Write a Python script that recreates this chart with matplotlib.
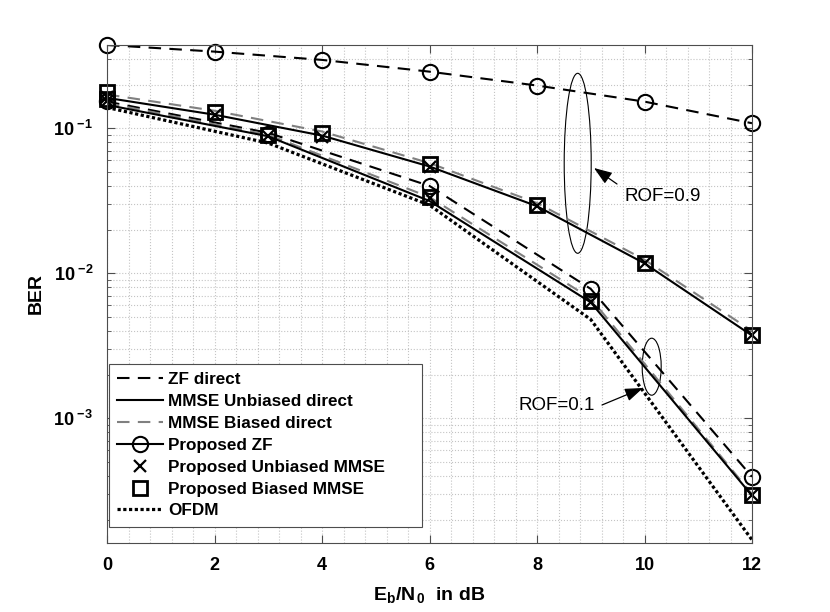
import matplotlib
matplotlib.use('Agg')
import matplotlib.pyplot as plt
from matplotlib.lines import Line2D
from matplotlib.patches import Ellipse
from matplotlib.ticker import FixedLocator, MultipleLocator, LogLocator, NullFormatter, FuncFormatter
import math

plt.rcParams['font.family'] = ['Liberation Sans', 'DejaVu Sans']
plt.rcParams['mathtext.fontset'] = 'custom'
plt.rcParams['mathtext.rm'] = 'Liberation Sans'
plt.rcParams['mathtext.bf'] = 'Liberation Sans:bold'
plt.rcParams['mathtext.it'] = 'Liberation Sans:italic'

# ---------------- data ----------------
# ROF = 0.9
snr_a = [0, 2, 4, 6, 8, 10, 12]
zf_direct_a = [0.375, 0.3376, 0.296, 0.2456, 0.197, 0.1526, 0.1083]
mmse_unb_direct_a = [0.162, 0.124, 0.089, 0.0545, 0.0290, 0.0117, 0.00372]
mmse_b_direct_a = [0.171, 0.132, 0.095, 0.0575, 0.0305, 0.0124, 0.0040]
prop_zf_a = [0.375, 0.3376, 0.296, 0.2456, 0.197, 0.1526, 0.1083]
prop_unb_a = [0.163, 0.1236, 0.0875, 0.0543, 0.0292, 0.0117, 0.00375]
prop_b_a = [0.178, 0.130, 0.0924, 0.0565, 0.0295, 0.0117, 0.00375]

# ROF = 0.1
snr_b = [0, 3, 6, 9, 12]
zf_direct_b = [0.1526, 0.093, 0.040, 0.0078, 0.000395]
mmse_unb_direct_b = [0.1448, 0.088, 0.0315, 0.0063, 0.000293]
mmse_b_direct_b = [0.149, 0.090, 0.0335, 0.0067, 0.000300]
prop_zf_b = [0.153, 0.091, 0.040, 0.0078, 0.000395]
prop_unb_b = [0.155, 0.088, 0.0330, 0.0063, 0.000295]
prop_b_b = [0.160, 0.0899, 0.0335, 0.0064, 0.000296]
ofdm = [0.139, 0.079, 0.0295, 0.0048, 0.000145]

legend_labels = ['ZF direct', 'MMSE Unbiased direct', 'MMSE Biased direct',
                 'Proposed ZF', 'Proposed Unbiased MMSE', 'Proposed Biased MMSE', 'OFDM']

# ---------------- figure ----------------
fig = plt.figure(figsize=(8.3, 6.12), dpi=100)
ax = fig.add_axes([107/830, 69/612, 645/830, 498/612])
ax.set_yscale('log')

dash = (6, 4)
lw = 1.5
ax.plot(snr_a, zf_direct_a, color='k', lw=lw, dashes=dash)
ax.plot(snr_b, zf_direct_b, color='k', lw=lw, dashes=dash)
ax.plot(snr_a, mmse_b_direct_a, color='0.5', lw=lw, dashes=dash)
ax.plot(snr_b, mmse_b_direct_b, color='0.5', lw=lw, dashes=dash)
ax.plot(snr_a, mmse_unb_direct_a, color='k', lw=lw)
ax.plot(snr_b, mmse_unb_direct_b, color='k', lw=lw)
ax.plot(snr_b, ofdm, color='k', lw=2.3, dashes=(1, 0.8))

mk_o = dict(marker='o', ms=11, mew=1.5, mfc='none', mec='k', ls='none')
mk_x = dict(marker='x', ms=8, mew=1.6, color='k', ls='none')
mk_s = dict(marker='s', ms=10, mew=2, mfc='none', mec='k', ls='none')
ax.plot(snr_a, prop_zf_a, **mk_o, clip_on=False)
ax.plot(snr_b, prop_zf_b, **mk_o, clip_on=False)
ax.plot(snr_a, prop_unb_a, **mk_x, clip_on=False)
ax.plot(snr_b, prop_unb_b, **mk_x, clip_on=False)
ax.plot(snr_a, prop_b_a, **mk_s, clip_on=False)
ax.plot(snr_b, prop_b_b, **mk_s, clip_on=False)

ax.set_xlim(0, 12)
ax.set_ylim(1.38e-4, 0.375)

ax.xaxis.set_major_locator(MultipleLocator(2))
ax.xaxis.set_minor_locator(MultipleLocator(0.4))
ax.yaxis.set_major_locator(FixedLocator([1e-3, 1e-2, 1e-1]))
ax.yaxis.set_minor_locator(LogLocator(base=10, subs=range(2, 10)))
ax.yaxis.set_minor_formatter(NullFormatter())

def yfmt(v, pos):
    e = int(round(math.log10(v)))
    return r'$\mathbf{10}^{\ \mathbf{%d}}$' % e

ax.yaxis.set_major_formatter(FuncFormatter(yfmt))
ax.xaxis.set_major_formatter(FuncFormatter(lambda v, p: '%d' % v))

spc = '0.3'
for s in ax.spines.values():
    s.set_color(spc)
    s.set_linewidth(0.8)
ax.tick_params(which='both', direction='in', top=True, right=True, color=spc)
ax.tick_params(which='major', length=5.5, width=0.8, labelsize=13, pad=9)
ax.tick_params(which='minor', length=3, width=0.6)
ax.tick_params(axis='x', which='minor', length=0)
for lab in ax.get_xticklabels() + ax.get_yticklabels():
    lab.set_fontweight('bold')
ax.tick_params(axis='x', pad=10)
ax.tick_params(axis='y', pad=10)

ax.grid(True, which='both', linestyle=':', color='0.77', lw=0.8)
ax.set_axisbelow(True)

ax.set_xlabel(r'$\mathbf{E_{b}/N_{\,0}}$  in dB', fontsize=14, fontweight='bold', labelpad=8)
ax.set_ylabel('BER', fontsize=14, fontweight='bold', labelpad=6)

# ellipses and annotations
def af(px, py):
    return ((px - 107) / 645, (543 - py) / 498)

e1 = Ellipse(af(577.7, 163.3), 27/645, 180/498, transform=ax.transAxes,
             fill=False, ec='k', lw=0.8)
ax.add_patch(e1)
e2 = Ellipse(af(651.7, 366.7), 19/645, 57/498, transform=ax.transAxes,
             fill=False, ec='k', lw=0.8)
ax.add_patch(e2)

ax.text(*af(624, 196.7), 'ROF=0.9', transform=ax.transAxes, fontsize=13.5,
        ha='left', va='center')
ax.text(*af(518, 405), 'ROF=0.1', transform=ax.transAxes, fontsize=13.5,
        ha='left', va='center')
ap = dict(arrowstyle='-|>,head_length=0.55,head_width=0.2', color='k', lw=0.9,
          mutation_scale=20, shrinkA=0, shrinkB=0)
ax.annotate('', xy=af(594, 168), xytext=af(617, 184), xycoords='axes fraction',
            textcoords='axes fraction', arrowprops=ap)
ax.annotate('', xy=af(643, 388), xytext=af(602, 405), xycoords='axes fraction',
            textcoords='axes fraction', arrowprops=ap)

# legend
handles = [
    Line2D([], [], color='k', lw=lw, dashes=dash),
    Line2D([], [], color='k', lw=lw),
    Line2D([], [], color='0.5', lw=lw, dashes=dash),
    Line2D([], [], color='k', lw=lw, marker='o', ms=11, mew=1.5, mfc='none', mec='k'),
    Line2D([], [], **mk_x),
    Line2D([], [], **mk_s),
    Line2D([], [], color='k', lw=2.3, dashes=(1, 0.8)),
]
x0, y0 = af(108.5, 527)
x1, y1 = af(422, 365)
leg = ax.legend(handles, legend_labels, loc='lower left',
                bbox_to_anchor=(x0, y0, x1 - x0, y1 - y0), mode='expand',
                bbox_transform=ax.transAxes, borderaxespad=0,
                prop={'weight': 'bold', 'size': 12.3},
                handlelength=2.7, handletextpad=0.3, labelspacing=0.4, borderpad=0.5,
                fancybox=False, framealpha=1, edgecolor='0.3', numpoints=1)
leg.get_frame().set_linewidth(0.8)

fig.savefig('out.png', dpi=100)
